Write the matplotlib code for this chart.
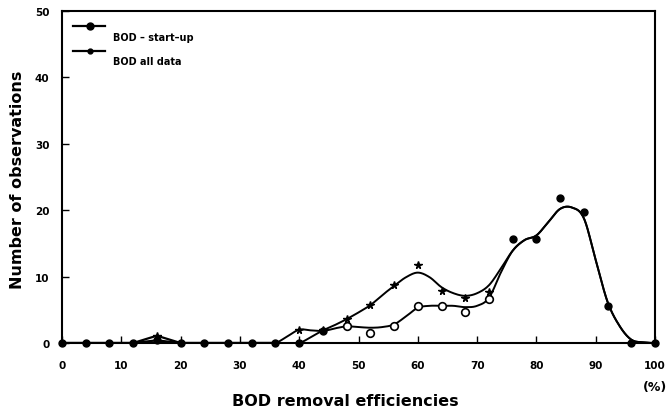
import numpy as np
import matplotlib
matplotlib.use("Agg")
import matplotlib.pyplot as plt
from matplotlib.lines import Line2D

# ---- data ----
efficiency = [0, 4, 8, 12, 16, 20, 24, 28, 32, 36, 40, 44, 48, 52, 56, 60, 64, 68, 72,
              76, 80, 84, 88, 92, 96, 100]
startup_obs = [0.0, 0.0, 0.0, 0.0, 0.4, 0.0, 0.0, 0.0, 0.0, 0.0, 0.0, 1.8, 2.6, 1.5,
               2.6, 5.6, 5.6, 4.7, 6.6, 15.7, 15.7, 21.8, 19.8, 5.6, 0.0, 0.0]
alldata_obs = [0.0, 0.0, 0.0, 0.0, 1.1, 0.0, 0.0, 0.0, 0.0, 0.0, 2.0, 1.9, 3.6, 5.7,
               8.8, 11.8, 7.9, 6.8, 7.7, 15.7, 15.7, 21.8, 19.8, 5.6, 0.0, 0.0]

# fitted (smoothed) curves drawn in the reference
curve_x = [36, 38, 40, 42, 44, 46, 48, 50, 52, 54, 56, 58, 60, 62, 64, 66, 68, 70, 72,
           74, 76, 78, 80, 82, 84, 86, 88, 90, 92, 94, 96, 98, 100]
startup_curve = [0.0, 1.0, 2.0, 1.9, 1.8, 2.2, 2.5, 2.4, 2.3, 2.4, 2.8, 4.0, 5.3, 5.6,
                 5.6, 5.6, 5.4, 5.6, 6.8, 10.6, 13.9, 15.5, 16.2, 18.2, 20.2, 20.4,
                 18.8, 12.5, 6.2, 2.6, 0.5, 0.1, 0.0]
alldata_curve = [0.0, 0.0, 0.0, 0.9, 1.9, 2.7, 3.6, 4.6, 5.7, 7.2, 8.6, 9.9, 10.6, 9.9,
                 8.4, 7.5, 7.1, 7.5, 8.7, 11.2, 13.9, 15.5, 16.2, 18.2, 20.2, 20.4,
                 18.8, 12.5, 6.2, 2.6, 0.5, 0.1, 0.0]

x_ticks = [0, 10, 20, 30, 40, 50, 60, 70, 80, 90, 100]
y_ticks = [0, 10, 20, 30, 40, 50]
legend_labels = ["BOD \u2013 start\u2013up", "BOD all data"]
x_label = "BOD removal efficiencies"
y_label = "Number of observations"


def catmull_rom(xs, ys, n=16):
    xs = np.asarray(xs, float)
    ys = np.asarray(ys, float)
    px = np.concatenate([[2 * xs[0] - xs[1]], xs, [2 * xs[-1] - xs[-2]]])
    py = np.concatenate([[ys[0]], ys, [ys[-1]]])
    out_x, out_y = [], []
    t = np.linspace(0, 1, n, endpoint=False)
    for i in range(1, len(px) - 2):
        for arr, out in ((px, out_x), (py, out_y)):
            p0, p1, p2, p3 = arr[i - 1], arr[i], arr[i + 1], arr[i + 2]
            out.extend(0.5 * ((2 * p1) + (-p0 + p2) * t
                              + (2 * p0 - 5 * p1 + 4 * p2 - p3) * t ** 2
                              + (-p0 + 3 * p1 - 3 * p2 + p3) * t ** 3))
    out_x.append(xs[-1])
    out_y.append(ys[-1])
    return np.array(out_x), np.array(out_y)


plt.rcParams['font.family'] = ['DejaVu Sans']
fig = plt.figure(figsize=(6.69, 4.14), dpi=100)
W, H = 669, 414
ax = fig.add_axes([62 / W, (H - 344) / H, (655 - 62) / W, (344 - 12) / H])

eff = np.array(efficiency)
su = np.array(startup_obs)
ad = np.array(alldata_obs)

# straight baseline part (0-36)
low = eff <= 36
ax.plot(eff[low], ad[low], color='black', lw=1.6, zorder=2)
ax.plot(eff[low], su[low], color='black', lw=1.6, zorder=2)

# smoothed curves
cx, cy = catmull_rom(curve_x, startup_curve)
ax.plot(cx, cy, color='black', lw=1.4, zorder=2)
cx, cy = catmull_rom(curve_x, alldata_curve)
ax.plot(cx, cy, color='black', lw=1.4, zorder=2)

# markers
diff = ad != su
ax.plot(eff[diff], ad[diff], linestyle='none', marker='*', ms=5.5, color='black',
        zorder=3)
open_mask = (eff >= 48) & (eff <= 72)
ax.plot(eff[~open_mask], su[~open_mask], linestyle='none', marker='o', ms=5,
        color='black', zorder=4, clip_on=False)
ax.plot(eff[open_mask], su[open_mask], linestyle='none', marker='o', ms=5.5,
        markerfacecolor='white', markeredgecolor='black', mew=1.2, zorder=4)

ax.set_xlim(0, 100)
ax.set_ylim(0, 50)
ax.set_xticks(x_ticks)
ax.set_yticks(y_ticks)
ax.tick_params(axis='both', direction='in', length=5, width=1.0, labelsize=7.5)
ax.tick_params(axis='x', pad=12)
ax.tick_params(axis='y', pad=9)
for lab in ax.get_xticklabels() + ax.get_yticklabels():
    lab.set_fontweight('bold')
for sp in ax.spines.values():
    sp.set_linewidth(1.5)

fig.text(345 / W, 1 - 402 / H, x_label, ha='center', va='center', fontsize=11.5,
         fontweight='semibold')
fig.text(18 / W, 1 - 180 / H, y_label, ha='center', va='center', rotation=90,
         fontsize=11.5, fontweight='semibold')
fig.text(655 / W, 1 - 388 / H, "(%)", ha='center', va='center', fontsize=9,
         fontweight='bold')

# legend drawn by hand
for i, (lab, ms, mk) in enumerate(zip(legend_labels, [5, 3.5], ['o', 'o'])):
    yl = 1 - (27 + 25 * i) / H
    fig.add_artist(Line2D([73 / W, 105 / W], [yl, yl], color='black', lw=1.6))
    fig.add_artist(Line2D([90 / W], [yl], marker=mk, ms=ms, color='black'))
    fig.text(113 / W, 1 - (38 + 24 * i) / H, lab, ha='left', va='center',
             fontsize=7, fontweight='bold')

fig.savefig("out.png", dpi=100)
